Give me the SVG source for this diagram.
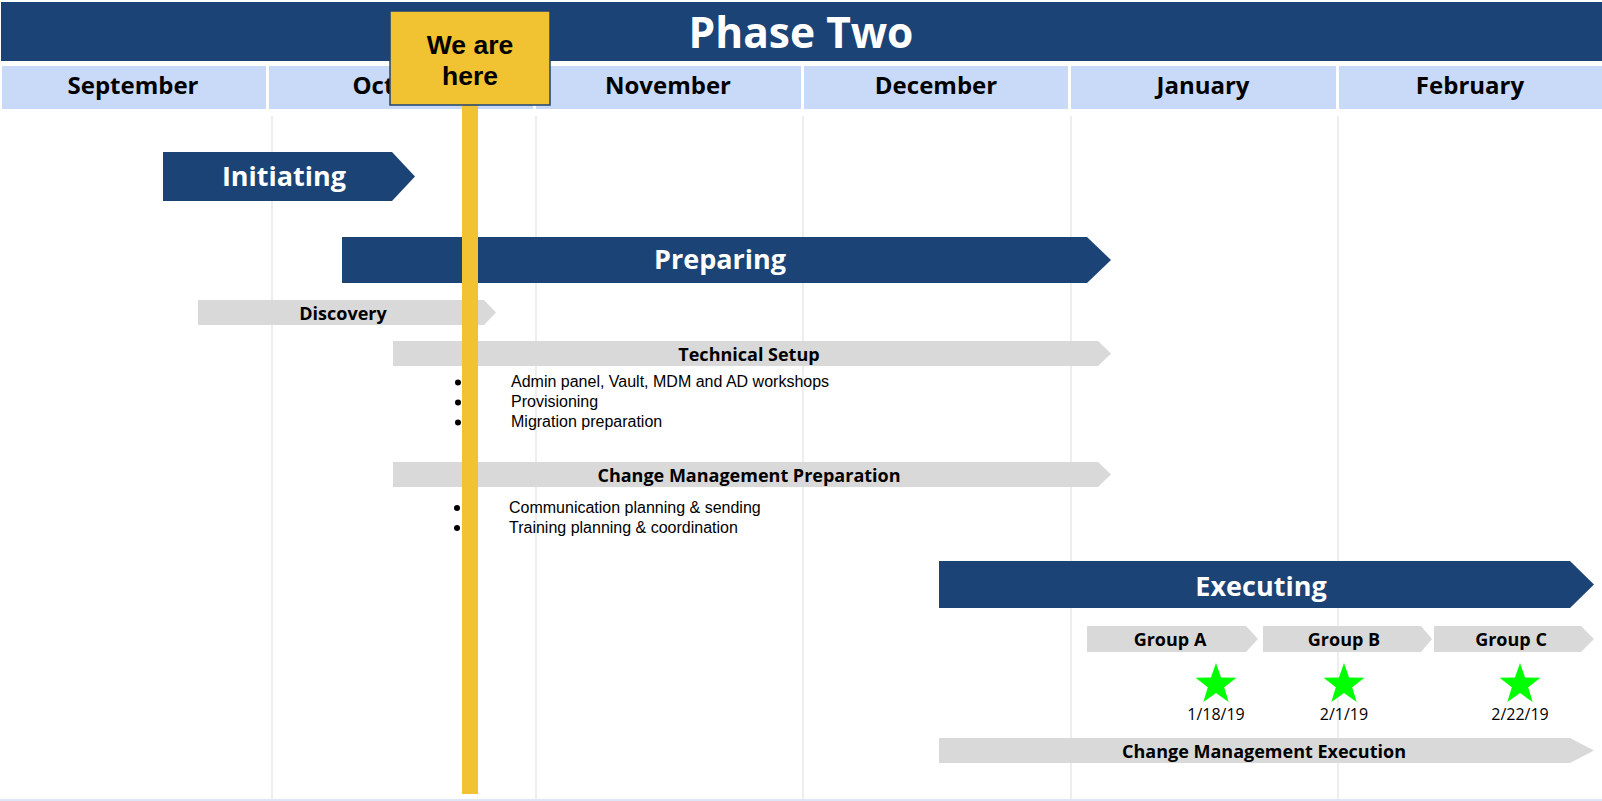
<svg xmlns="http://www.w3.org/2000/svg" width="1602" height="801" viewBox="0 0 1602 801">
<style>
.grid{stroke:#EEEEEE;stroke-width:2;fill:none}
.month{fill:#C9DAF8}
.mt{font-family:"Open Sans","Noto Sans",sans-serif;font-weight:700;font-size:24px;fill:#000;text-anchor:middle}
.phase{fill:#1C4375}
.pt{font-family:"Open Sans","Noto Sans",sans-serif;font-weight:700;font-size:27px;fill:#fff;text-anchor:middle}
.task{fill:#D9D9D9}
.tt{font-family:"Open Sans","Noto Sans",sans-serif;font-weight:700;font-size:18px;fill:#000;text-anchor:middle}
.bt{font-family:"Liberation Sans",Arial,sans-serif;font-size:16px;fill:#000}
.dt{font-family:"Open Sans","Noto Sans",sans-serif;font-size:16px;fill:#000;text-anchor:middle}
.star{fill:#00FF00}
.weh{font-family:"Liberation Sans",Arial,sans-serif;font-weight:700;font-size:26.5px;fill:#000;text-anchor:middle}
</style>
<defs>
<polygon id="star" points="0,-21.5 5.05,-6.96 20.45,-6.64 8.18,2.66 12.64,17.39 0,8.6 -12.64,17.39 -8.18,2.66 -20.45,-6.64 -5.05,-6.96"/>
</defs>
<rect x="0" y="0" width="1602" height="801" fill="#fff"/>
<g id="grid">
<line class="grid" x1="272" y1="116" x2="272" y2="801"/>
<line class="grid" x1="536" y1="116" x2="536" y2="801"/>
<line class="grid" x1="803" y1="116" x2="803" y2="801"/>
<line class="grid" x1="1071" y1="116" x2="1071" y2="801"/>
<line class="grid" x1="1338" y1="116" x2="1338" y2="801"/>
<line x1="0" y1="800" x2="1602" y2="800" stroke="#DDE6F7" stroke-width="2"/>
</g>
<g id="header">
<rect x="1" y="2" width="1601" height="59" class="phase"/>
<text x="801" y="48" font-family="'Open Sans','Noto Sans',sans-serif" font-weight="700" font-size="42.5" fill="#fff" text-anchor="middle">Phase Two</text>
</g>
<g id="months">
<rect class="month" x="2" y="66" width="264" height="43"/>
<rect class="month" x="269" y="66" width="264" height="43"/>
<rect class="month" x="536" y="66" width="265" height="43"/>
<rect class="month" x="804" y="66" width="264" height="43"/>
<rect class="month" x="1071" y="66" width="265" height="43"/>
<rect class="month" x="1339" y="66" width="263" height="43"/>
<text class="mt" x="133" y="94">September</text>
<text class="mt" x="401" y="94">October</text>
<text class="mt" x="668" y="94">November</text>
<text class="mt" x="936" y="94">December</text>
<text class="mt" x="1203" y="94">January</text>
<text class="mt" x="1470" y="94">February</text>
</g>
<g id="initiating">
<polygon class="phase" points="163,152 392,152 415,176.5 392,201 163,201"/>
<text class="pt" x="284" y="186">Initiating</text>
</g>
<g id="preparing">
<polygon class="phase" points="342,237 1087,237 1111,260 1087,283 342,283"/>
<text class="pt" x="720" y="269">Preparing</text>
</g>
<g id="discovery">
<polygon class="task" points="198,300 484,300 496,312.5 484,325 198,325"/>
<text class="tt" x="343" y="320">Discovery</text>
</g>
<g id="technical-setup">
<polygon class="task" points="393,341 1098,341 1111,353.5 1098,366 393,366"/>
<text class="tt" x="749" y="361">Technical Setup</text>
<circle cx="458" cy="382.5" r="3"/>
<circle cx="458" cy="402.5" r="3"/>
<circle cx="458" cy="422.5" r="3"/>
<text class="bt" x="511" y="387">Admin panel, Vault, MDM and AD workshops</text>
<text class="bt" x="511" y="407">Provisioning</text>
<text class="bt" x="511" y="427">Migration preparation</text>
</g>
<g id="change-management-preparation">
<polygon class="task" points="393,462 1098,462 1111,474.5 1098,487 393,487"/>
<text class="tt" x="749" y="482">Change Management Preparation</text>
<circle cx="457" cy="508" r="3"/>
<circle cx="457" cy="528" r="3"/>
<text class="bt" x="509" y="513">Communication planning &amp; sending</text>
<text class="bt" x="509" y="533">Training planning &amp; coordination</text>
</g>
<g id="executing">
<polygon class="phase" points="939,561 1570,561 1594,584.5 1570,608 939,608"/>
<text class="pt" x="1261" y="596">Executing</text>
</g>
<g id="group-a">
<polygon class="task" points="1087,626 1246,626 1258,639 1246,652 1087,652"/>
<text class="tt" x="1170" y="646">Group A</text>
<use href="#star" class="star" x="1216" y="684.5"/>
<text class="dt" x="1216" y="720">1/18/19</text>
</g>
<g id="group-b">
<polygon class="task" points="1263,626 1421,626 1432,639 1421,652 1263,652"/>
<text class="tt" x="1344" y="646">Group B</text>
<use href="#star" class="star" x="1344" y="684.5"/>
<text class="dt" x="1344" y="720">2/1/19</text>
</g>
<g id="group-c">
<polygon class="task" points="1434,626 1581,626 1594,639 1581,652 1434,652"/>
<text class="tt" x="1511" y="646">Group C</text>
<use href="#star" class="star" x="1520" y="684.5"/>
<text class="dt" x="1520" y="720">2/22/19</text>
</g>
<g id="change-management-execution">
<polygon class="task" points="939,738 1570,738 1594,750.5 1570,763 939,763"/>
<text class="tt" x="1264" y="758">Change Management Execution</text>
</g>
<g id="we-are-here">
<rect x="462" y="100" width="16" height="694" fill="#F1C232"/>
<rect x="390" y="11" width="160" height="94" fill="#F1C232" stroke="#1C4375" stroke-width="1.5"/>
<text class="weh" x="470" y="54">We are</text>
<text class="weh" x="470" y="85">here</text>
</g>
</svg>
